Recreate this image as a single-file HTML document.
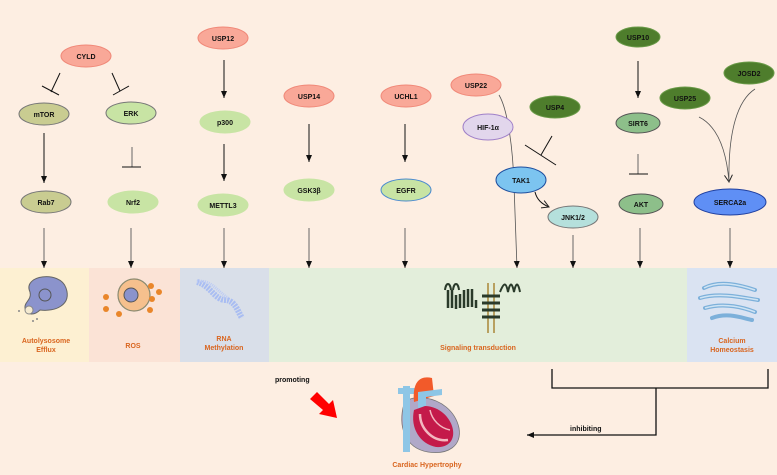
<!DOCTYPE html>
<html><head><meta charset="utf-8"><style>
html,body{margin:0;padding:0;background:#fdeee2;}
svg{display:block;}
text{font-family:"Liberation Sans",sans-serif;font-weight:bold;}
</style></head><body>
<svg width="777" height="475" viewBox="0 0 777 475" xmlns="http://www.w3.org/2000/svg">
<defs>
<marker id="ah" markerWidth="8" markerHeight="8" refX="7" refY="4" orient="auto" markerUnits="userSpaceOnUse"><path d="M0,1 L7,4 L0,7 Z" fill="#111"/></marker>
<marker id="oa" markerWidth="10" markerHeight="10" refX="8" refY="5" orient="auto" markerUnits="userSpaceOnUse"><path d="M1,1 L8,5 L1,9" fill="none" stroke="#222" stroke-width="1"/></marker>
</defs>
<rect width="777" height="475" fill="#fdeee2"/>
<rect x="0" y="268" width="89" height="94" fill="#fdf0d2"/>
<rect x="89" y="268" width="91" height="94" fill="#fbe3d6"/>
<rect x="180" y="268" width="89" height="94" fill="#d9dfe9"/>
<rect x="269" y="268" width="418" height="94" fill="#e3eedb"/>
<rect x="687" y="268" width="90" height="94" fill="#dae3f2"/>

<path d="M30,292 C22,275 60,270 66,288 C72,305 55,312 40,310 C34,316 26,315 25,308 C24,302 32,300 30,292Z" fill="#8b93cc" stroke="#666" stroke-width="1"/>
<circle cx="45" cy="295" r="6" fill="#8b93cc" stroke="#555"/>
<circle cx="29" cy="310" r="4" fill="#f4ead0" stroke="#888"/>
<circle cx="19" cy="311" r="1" fill="#888"/><circle cx="33" cy="321" r="1" fill="#888"/><circle cx="37" cy="319" r="1" fill="#888"/>
<circle cx="134" cy="295" r="16" fill="#f6c08d" stroke="#8a8a70" stroke-width="1.2"/>
<circle cx="131" cy="295" r="7" fill="#8b93cc" stroke="#555"/>
<g fill="#e9862a"><circle cx="106" cy="297" r="3"/><circle cx="106" cy="309" r="3"/><circle cx="119" cy="314" r="3"/><circle cx="151" cy="286" r="3"/><circle cx="159" cy="292" r="3"/><circle cx="152" cy="299" r="3"/><circle cx="150" cy="310" r="3"/></g>
<path d="M197,282 C210,285 215,300 225,300 C235,300 238,312 242,318" stroke="#a9bdf2" stroke-width="6" fill="none" stroke-dasharray="2 1"/>
<path d="M197,282 C210,278 218,292 228,298" stroke="#bccbf5" stroke-width="3" fill="none" stroke-dasharray="1 1"/>
<path d="M448,290 l0,18 M452,290 l0,18 M456,295 l0,14 M460,294 l0,14 M464,290 l0,18 M468,289 l0,18 M472,289 l0,18 M476,300 l0,8" stroke="#2a3a2a" stroke-width="2.5" fill="none"/>
<path d="M445,290 C446,282 450,282 451,290 M453,290 C454,282 458,282 459,290" stroke="#2a3a2a" stroke-width="2" fill="none"/>
<path d="M488,283 l0,50 M494,283 l0,50" stroke="#b8a060" stroke-width="2"/>
<path d="M482,296 l18,0 M482,303 l18,0 M482,310 l18,0 M482,317 l18,0" stroke="#2a3a2a" stroke-width="3"/>
<path d="M500,292 C504,282 506,282 508,292 C510,282 512,282 514,292 C516,282 518,282 520,292" stroke="#2a3a2a" stroke-width="2" fill="none"/>
<path d="M704,288 C720,280 740,285 755,290 M700,298 C720,292 745,298 758,300 M705,308 C725,302 745,308 755,312 M712,318 C728,312 742,318 752,320" stroke="#7cb0da" stroke-width="4" fill="none" stroke-linecap="round"/>
<path d="M704,288 C720,280 740,285 755,290 M700,298 C720,292 745,298 758,300 M705,308 C725,302 745,308 755,312" stroke="#cfe4f4" stroke-width="1.5" fill="none"/>

<g fill="#d9651f" font-size="7" text-anchor="middle">
<text x="46" y="343">Autolysosome</text><text x="46" y="352">Efflux</text>
<text x="133" y="348">ROS</text>
<text x="224" y="341">RNA</text><text x="224" y="350">Methylation</text>
<text x="478" y="350">Signaling transduction</text>
<text x="732" y="343">Calcium</text><text x="732" y="352">Homeostasis</text>
<text x="427" y="467">Cardiac Hypertrophy</text>
</g>

<g stroke="#111" stroke-width="1" fill="none">
<line x1="60" y1="73" x2="51" y2="92"/><line x1="42" y1="86" x2="59" y2="95"/>
<line x1="112" y1="73" x2="120" y2="91"/><line x1="113" y1="95" x2="129" y2="86"/>
<line x1="132" y1="147" x2="132" y2="167" stroke="#666"/><line x1="122" y1="167" x2="141" y2="167"/>
<line x1="44" y1="133" x2="44" y2="183" marker-end="url(#ah)"/>
<line x1="224" y1="60" x2="224" y2="98" marker-end="url(#ah)"/>
<line x1="224" y1="144" x2="224" y2="181" marker-end="url(#ah)"/>
<line x1="309" y1="124" x2="309" y2="162" marker-end="url(#ah)"/>
<line x1="405" y1="124" x2="405" y2="162" marker-end="url(#ah)"/>
<line x1="552" y1="136" x2="541" y2="155"/><line x1="525" y1="145" x2="556" y2="165"/>
<path d="M535,192 C537,200 542,204 549,207" marker-end="url(#oa)"/>
<path d="M499,95 C508,110 513,150 514,185 L517,268" stroke="#555" stroke-width="0.8" marker-end="url(#ah)"/>
<line x1="638" y1="61" x2="638" y2="98" marker-end="url(#ah)"/>
<line x1="638" y1="154" x2="638" y2="174" stroke="#666"/><line x1="629" y1="174" x2="648" y2="174"/>
<path d="M699,117 C715,125 726,145 729,182" stroke="#555" stroke-width="0.8" marker-end="url(#oa)"/>
<path d="M755,89 C738,100 728,130 729,182" stroke="#555" stroke-width="0.8"/>
<line x1="44" y1="228" x2="44" y2="268" stroke="#666" marker-end="url(#ah)"/>
<line x1="131" y1="228" x2="131" y2="268" stroke="#666" marker-end="url(#ah)"/>
<line x1="224" y1="228" x2="224" y2="268" stroke="#666" marker-end="url(#ah)"/>
<line x1="309" y1="228" x2="309" y2="268" stroke="#666" marker-end="url(#ah)"/>
<line x1="405" y1="228" x2="405" y2="268" stroke="#666" marker-end="url(#ah)"/>
<line x1="573" y1="235" x2="573" y2="268" stroke="#666" marker-end="url(#ah)"/>
<line x1="640" y1="228" x2="640" y2="268" stroke="#666" marker-end="url(#ah)"/>
<line x1="730" y1="228" x2="730" y2="268" stroke="#666" marker-end="url(#ah)"/>
<path d="M552,369 L552,388 L768,388 L768,369" stroke-width="1.3"/>
<path d="M656,388 L656,435 L527,435" stroke-width="1.3" marker-end="url(#ah)"/>
</g>
<text x="275" y="382" font-size="7" fill="#111">promoting</text>
<text x="570" y="431" font-size="7" fill="#111">inhibiting</text>
<polygon points="310,399 317,392 329,404 333,400 337,418 319,414 323,410" fill="#f00"/>

<!-- heart -->
<path d="M404,404 C398,425 404,448 428,452 C448,455 462,446 459,428 C455,410 440,400 425,398 C415,397 408,398 404,404Z" fill="#b0a8c8" stroke="#777" stroke-width="0.8"/>
<rect x="403" y="386" width="7" height="66" fill="#8ec6e6"/>
<path d="M398,388 l20,0 0,6 -20,0Z" fill="#8ec6e6"/>
<path d="M414,402 C412,382 420,375 432,378 L434,396Z" fill="#f25a2a"/>
<path d="M418,392 l24,-3 0,6 -16,2 0,12 -8,0Z" fill="#8ec6e6"/>
<path d="M414,410 C410,428 420,444 436,447 C450,448 456,438 452,426 C448,414 436,406 425,406Z" fill="#c41a4a"/>
<path d="M420,414 C420,428 432,442 448,440" stroke="#f3b8c0" stroke-width="2.5" fill="none"/>
<path d="M430,410 C432,420 440,428 450,430" stroke="#f3b8c0" stroke-width="1.5" fill="none"/>

<g font-size="7" text-anchor="middle" fill="#111">
<ellipse cx="86" cy="56" rx="25" ry="11" fill="#f9a898" stroke="#f08878"/><text x="86" y="59">CYLD</text>
<ellipse cx="44" cy="114" rx="25" ry="11" fill="#c9cc91" stroke="#777"/><text x="44" y="117">mTOR</text>
<ellipse cx="131" cy="113" rx="25" ry="11" fill="#c8e4a4" stroke="#777"/><text x="131" y="116">ERK</text>
<ellipse cx="46" cy="202" rx="25" ry="11" fill="#c9cc91" stroke="#777"/><text x="46" y="205">Rab7</text>
<ellipse cx="133" cy="202" rx="25" ry="11" fill="#c8e4a4" stroke="#c8e4a4"/><text x="133" y="205">Nrf2</text>
<ellipse cx="223" cy="38" rx="25" ry="11" fill="#f9a898" stroke="#f08878"/><text x="223" y="41">USP12</text>
<ellipse cx="225" cy="122" rx="25" ry="11" fill="#c8e4a4" stroke="#c8e4a4"/><text x="225" y="125">p300</text>
<ellipse cx="223" cy="205" rx="25" ry="11" fill="#c8e4a4" stroke="#c8e4a4"/><text x="223" y="208">METTL3</text>
<ellipse cx="309" cy="96" rx="25" ry="11" fill="#f9a898" stroke="#f08878"/><text x="309" y="99">USP14</text>
<ellipse cx="309" cy="190" rx="25" ry="11" fill="#c8e4a4" stroke="#c8e4a4"/><text x="309" y="193">GSK3β</text>
<ellipse cx="406" cy="96" rx="25" ry="11" fill="#f9a898" stroke="#f08878"/><text x="406" y="99">UCHL1</text>
<ellipse cx="406" cy="190" rx="25" ry="11" fill="#c8e4a4" stroke="#4a8ad0"/><text x="406" y="193">EGFR</text>
<ellipse cx="476" cy="85" rx="25" ry="11" fill="#f9a898" stroke="#f08878"/><text x="476" y="88">USP22</text>
<ellipse cx="488" cy="127" rx="25" ry="13" fill="#e2d6ec" stroke="#a080c8"/><text x="488" y="130">HIF-1α</text>
<ellipse cx="555" cy="107" rx="25" ry="11" fill="#4e7d2c" stroke="#6a9a48"/><text x="555" y="110">USP4</text>
<ellipse cx="521" cy="180" rx="25" ry="13" fill="#7cc4f0" stroke="#1f4f9f"/><text x="521" y="183">TAK1</text>
<ellipse cx="573" cy="217" rx="25" ry="11" fill="#b5e0dc" stroke="#777"/><text x="573" y="220">JNK1/2</text>
<ellipse cx="638" cy="37" rx="22" ry="10" fill="#4e7d2c" stroke="#6a9a48"/><text x="638" y="40">USP10</text>
<ellipse cx="638" cy="123" rx="22" ry="10" fill="#8dbf8a" stroke="#555"/><text x="638" y="126">SIRT6</text>
<ellipse cx="641" cy="204" rx="22" ry="10" fill="#8dbf8a" stroke="#555"/><text x="641" y="207">AKT</text>
<ellipse cx="685" cy="98" rx="25" ry="11" fill="#4e7d2c" stroke="#6a9a48"/><text x="685" y="101">USP25</text>
<ellipse cx="749" cy="73" rx="25" ry="11" fill="#4e7d2c" stroke="#6a9a48"/><text x="749" y="76">JOSD2</text>
<ellipse cx="730" cy="202" rx="36" ry="13" fill="#5f8ff5" stroke="#1f3f9f"/><text x="730" y="205">SERCA2a</text>
</g>
</svg>
</body></html>
